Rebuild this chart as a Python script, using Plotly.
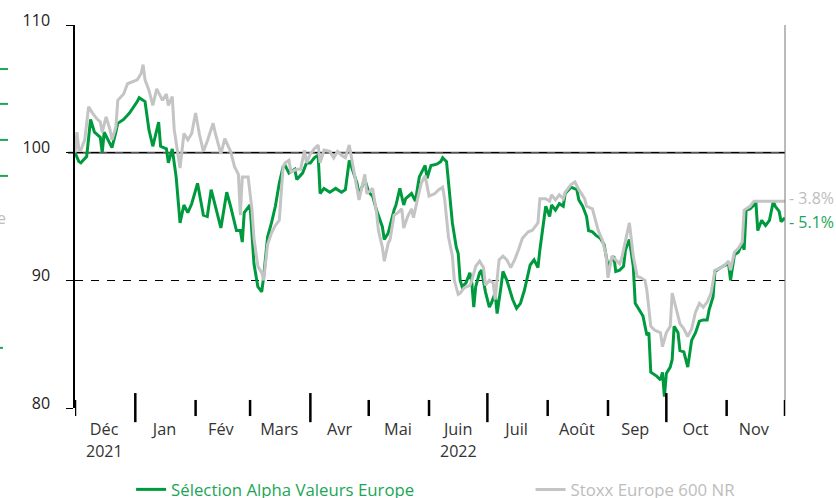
import plotly.graph_objects as go

# ---------------- data ----------------
fund_dates = [
    "2021-12-01","2021-12-03","2021-12-04","2021-12-07","2021-12-09","2021-12-11","2021-12-14","2021-12-15",
    "2021-12-16","2021-12-18","2021-12-20","2021-12-22","2021-12-23","2021-12-26","2021-12-29","2022-01-02",
    "2022-01-03","2022-01-06","2022-01-08","2022-01-10","2022-01-13","2022-01-14","2022-01-17","2022-01-18",
    "2022-01-20","2022-01-22","2022-01-24","2022-01-26","2022-01-28","2022-01-30","2022-02-02","2022-02-05",
    "2022-02-07","2022-02-09","2022-02-11","2022-02-14","2022-02-17","2022-02-19","2022-02-22","2022-02-24",
    "2022-02-25","2022-02-26","2022-03-01","2022-03-02","2022-03-03","2022-03-05","2022-03-07","2022-03-08",
    "2022-03-10","2022-03-12","2022-03-14","2022-03-16","2022-03-18","2022-03-19","2022-03-21","2022-03-24",
    "2022-03-25","2022-03-28","2022-03-30","2022-04-01","2022-04-03","2022-04-05","2022-04-06","2022-04-08",
    "2022-04-11","2022-04-14","2022-04-17","2022-04-19","2022-04-21","2022-04-23","2022-04-25","2022-04-26",
    "2022-04-29","2022-05-01","2022-05-03","2022-05-05","2022-05-08","2022-05-09","2022-05-11","2022-05-14",
    "2022-05-15","2022-05-17","2022-05-19","2022-05-20","2022-05-23","2022-05-25","2022-05-27","2022-05-30",
    "2022-05-31","2022-06-02","2022-06-05","2022-06-07","2022-06-08","2022-06-10","2022-06-12","2022-06-13",
    "2022-06-15","2022-06-16","2022-06-17","2022-06-18","2022-06-20","2022-06-22","2022-06-23","2022-06-24",
    "2022-06-25","2022-06-27","2022-06-28","2022-06-30","2022-07-02","2022-07-03","2022-07-05","2022-07-06",
    "2022-07-08","2022-07-09","2022-07-11","2022-07-14","2022-07-16","2022-07-18","2022-07-20","2022-07-22",
    "2022-07-23","2022-07-25","2022-07-27","2022-07-28","2022-07-30","2022-07-31","2022-08-02","2022-08-03",
    "2022-08-05","2022-08-07","2022-08-09","2022-08-10","2022-08-13","2022-08-16","2022-08-17","2022-08-19",
    "2022-08-21","2022-08-22","2022-08-24","2022-08-26","2022-08-28","2022-08-30","2022-09-01","2022-09-04",
    "2022-09-05","2022-09-07","2022-09-09","2022-09-10","2022-09-12","2022-09-14","2022-09-15","2022-09-17",
    "2022-09-19","2022-09-21","2022-09-22","2022-09-23","2022-09-26","2022-09-28","2022-09-29","2022-09-30",
    "2022-10-01","2022-10-03","2022-10-04","2022-10-05","2022-10-07","2022-10-08","2022-10-10","2022-10-12",
    "2022-10-14","2022-10-16","2022-10-18","2022-10-20","2022-10-22","2022-10-23","2022-10-25","2022-10-26",
    "2022-10-28","2022-10-30","2022-11-02","2022-11-03","2022-11-05","2022-11-07","2022-11-09","2022-11-10",
    "2022-11-11","2022-11-13","2022-11-15","2022-11-16","2022-11-17","2022-11-19","2022-11-21","2022-11-23",
    "2022-11-25","2022-11-26","2022-11-28","2022-11-29","2022-12-01",
]
fund_values = [
    100.0, 99.3, 99.2, 99.7, 102.6, 101.6, 101.2, 100.0,
    101.6, 101.0, 100.4, 101.6, 102.3, 102.6, 103.1, 104.0,
    104.3, 104.0, 101.8, 100.5, 102.4, 100.5, 100.3, 99.2,
    100.3, 98.1, 94.5, 95.9, 95.3, 96.0, 97.6, 95.1,
    95.0, 97.1, 95.8, 94.1, 96.9, 95.8, 93.9, 93.9,
    93.0, 95.3, 95.9, 93.6, 91.3, 89.5, 89.1, 90.3,
    93.4, 94.5, 95.8, 97.6, 98.9, 99.0, 98.4, 98.7,
    97.9, 98.4, 99.2, 99.2, 99.6, 99.8, 96.8, 97.2,
    96.9, 97.2, 96.9, 97.1, 99.4, 98.5, 97.6, 96.7,
    97.9, 96.9, 96.6, 95.5, 94.2, 93.2, 93.7, 95.5,
    95.9, 97.2, 95.9, 96.4, 96.8, 96.2, 98.1, 99.0,
    98.0, 99.0, 99.1, 99.3, 99.6, 99.3, 96.3, 94.5,
    92.6, 92.1, 90.0, 89.5, 89.8, 90.6, 89.8, 87.9,
    89.5, 90.6, 90.8, 89.1, 87.9, 88.2, 89.0, 87.4,
    89.5, 90.7, 90.0, 88.5, 87.8, 88.2, 89.2, 90.6,
    91.2, 91.6, 91.0, 92.4, 94.7, 95.8, 95.0, 95.9,
    95.5, 96.0, 95.8, 96.8, 97.3, 97.1, 96.3, 95.8,
    95.0, 93.9, 93.8, 93.5, 93.3, 92.8, 91.1, 91.9,
    90.7, 90.8, 91.1, 92.4, 93.2, 91.1, 88.2, 87.7,
    87.2, 85.7, 85.9, 82.8, 82.5, 82.2, 82.8, 80.9,
    82.7, 83.2, 83.8, 86.4, 85.9, 84.5, 84.4, 83.2,
    85.3, 85.9, 86.8, 86.9, 86.9, 87.7, 88.7, 90.7,
    90.9, 91.1, 91.3, 90.0, 92.0, 92.2, 92.9, 92.4,
    95.5, 95.6, 95.9, 96.2, 93.9, 94.7, 94.3, 94.7,
    96.2, 95.8, 95.4, 94.6, 94.9,
]

index_dates = [
    "2021-12-01","2021-12-02","2021-12-03","2021-12-04","2021-12-06","2021-12-08","2021-12-10","2021-12-12",
    "2021-12-14","2021-12-15","2021-12-17","2021-12-19","2021-12-20","2021-12-22","2021-12-23","2021-12-26",
    "2021-12-28","2021-12-31","2022-01-02","2022-01-04","2022-01-05","2022-01-06","2022-01-08","2022-01-10",
    "2022-01-12","2022-01-15","2022-01-17","2022-01-18","2022-01-20","2022-01-21","2022-01-24","2022-01-26",
    "2022-01-28","2022-01-30","2022-02-01","2022-02-03","2022-02-05","2022-02-07","2022-02-10","2022-02-11",
    "2022-02-14","2022-02-16","2022-02-19","2022-02-21","2022-02-23","2022-02-24","2022-02-25","2022-02-28",
    "2022-03-01","2022-03-02","2022-03-03","2022-03-05","2022-03-07","2022-03-08","2022-03-10","2022-03-12",
    "2022-03-14","2022-03-16","2022-03-18","2022-03-19","2022-03-21","2022-03-22","2022-03-25","2022-03-27",
    "2022-03-29","2022-03-30","2022-04-01","2022-04-03","2022-04-05","2022-04-06","2022-04-08","2022-04-11",
    "2022-04-13","2022-04-15","2022-04-17","2022-04-19","2022-04-21","2022-04-23","2022-04-24","2022-04-26",
    "2022-04-29","2022-04-30","2022-05-03","2022-05-05","2022-05-06","2022-05-08","2022-05-09","2022-05-11",
    "2022-05-12","2022-05-14","2022-05-16","2022-05-18","2022-05-19","2022-05-21","2022-05-23","2022-05-24",
    "2022-05-26","2022-05-28","2022-05-30","2022-06-01","2022-06-04","2022-06-06","2022-06-08","2022-06-09",
    "2022-06-11","2022-06-13","2022-06-14","2022-06-16","2022-06-17","2022-06-19","2022-06-22","2022-06-23",
    "2022-06-25","2022-06-27","2022-06-29","2022-06-30","2022-07-02","2022-07-04","2022-07-05","2022-07-07",
    "2022-07-09","2022-07-11","2022-07-13","2022-07-15","2022-07-17","2022-07-19","2022-07-22","2022-07-24",
    "2022-07-27","2022-07-28","2022-07-31","2022-08-02","2022-08-03","2022-08-05","2022-08-07","2022-08-09",
    "2022-08-10","2022-08-13","2022-08-15","2022-08-17","2022-08-20","2022-08-21","2022-08-24","2022-08-26",
    "2022-08-27","2022-08-29","2022-08-31","2022-09-01","2022-09-03","2022-09-05","2022-09-07","2022-09-08",
    "2022-09-10","2022-09-12","2022-09-14","2022-09-16","2022-09-18","2022-09-20","2022-09-21","2022-09-23",
    "2022-09-25","2022-09-28","2022-09-29","2022-10-01","2022-10-03","2022-10-04","2022-10-06","2022-10-08",
    "2022-10-10","2022-10-12","2022-10-14","2022-10-16","2022-10-18","2022-10-20","2022-10-22","2022-10-24",
    "2022-10-26","2022-10-28","2022-10-31","2022-11-02","2022-11-03","2022-11-05","2022-11-07","2022-11-09",
    "2022-11-10","2022-11-13","2022-11-15","2022-11-19","2022-11-23","2022-11-27","2022-12-01",
]
index_values = [
    100.0, 101.6, 100.2, 100.2, 101.0, 103.6, 103.1, 102.7,
    102.4, 101.6, 102.8, 101.8, 101.0, 102.0, 104.1, 104.6,
    105.4, 105.6, 105.7, 106.2, 106.9, 105.7, 104.9, 103.7,
    105.0, 104.1, 104.6, 103.7, 104.4, 101.8, 98.8, 101.5,
    101.0, 101.5, 103.1, 101.4, 100.1, 100.9, 102.3, 101.6,
    99.9, 101.1, 100.1, 98.9, 98.3, 95.1, 98.1, 98.1,
    96.6, 95.5, 93.3, 91.1, 90.6, 90.0, 92.8, 93.7,
    94.3, 94.7, 98.9, 99.2, 99.4, 98.5, 98.7, 98.7,
    100.2, 99.2, 99.9, 100.3, 100.6, 99.2, 100.2, 100.1,
    99.6, 100.1, 99.8, 99.6, 100.6, 98.9, 98.0, 96.3,
    98.3, 96.8, 97.2, 95.3, 93.9, 92.6, 91.5, 92.9,
    93.2, 95.1, 95.3, 95.6, 94.1, 95.0, 95.6, 94.9,
    96.3, 97.6, 98.2, 96.6, 96.8, 97.1, 97.3, 96.4,
    93.4, 91.9, 90.0, 88.9, 89.0, 89.4, 89.6, 90.0,
    91.1, 91.5, 91.0, 89.6, 90.0, 89.8, 88.5, 91.6,
    91.9, 91.6, 91.0, 91.6, 92.4, 93.3, 93.8, 93.9,
    94.5, 96.4, 96.4, 96.2, 96.7, 96.3, 96.7, 96.4,
    96.9, 97.5, 97.7, 97.1, 96.4, 95.8, 95.6, 94.5,
    93.9, 93.2, 92.0, 90.2, 91.9, 91.6, 91.3, 91.7,
    93.2, 94.5, 91.9, 90.3, 90.2, 90.0, 89.2, 86.4,
    86.1, 85.9, 84.8, 85.9, 86.4, 89.0, 87.8, 86.6,
    86.2, 85.6, 86.2, 87.5, 88.2, 87.9, 88.3, 89.0,
    90.8, 90.9, 91.2, 91.5, 90.8, 92.2, 92.5, 93.0,
    95.5, 95.8, 96.2, 96.2, 96.2, 96.2, 96.2,
]

month_starts = ["2021-12-01","2022-01-01","2022-02-01","2022-03-01","2022-04-01","2022-05-01","2022-06-01",
                "2022-07-01","2022-08-01","2022-09-01","2022-10-01","2022-11-01","2022-12-01"]
quarter_starts = ["2022-01-01","2022-04-01","2022-07-01","2022-10-01"]
month_mid = ["2021-12-16","2022-01-16","2022-02-14","2022-03-16","2022-04-16","2022-05-16","2022-06-16",
             "2022-07-16","2022-08-16","2022-09-15","2022-10-16","2022-11-15"]
month_labels = ["Déc","Jan","Fév","Mars","Avr","Mai","Juin","Juil","Août","Sep","Oct","Nov"]
year_labels = [("2021-12-16","2021"),("2022-06-16","2022")]
y_ticks = [80, 90, 100, 110]

fund_name = "Sélection Alpha Valeurs Europe"
index_name = "Stoxx Europe 600 NR"

GREEN = "#009A3E"
GREEN_TXT = "#1BA555"
GRAY = "#C4C4C4"
GRAY_TXT = "#BDBDBD"
FONT = "Open Sans"

fig = go.Figure()
fig.add_trace(go.Scatter(x=fund_dates, y=fund_values, mode="lines",
                         line=dict(color=GREEN, width=3), legend="legend",
                         name=f"<span style='color:{GREEN_TXT}'>{fund_name}</span>"))
fig.add_trace(go.Scatter(x=index_dates, y=index_values, mode="lines",
                         line=dict(color=GRAY, width=3), legend="legend2",
                         name=f"<span style='color:{GRAY_TXT}'>{index_name}</span>"))

shapes = []
# reference line at 100
shapes.append(dict(type="line", xref="paper", yref="y", x0=-0.01, x1=1, y0=100, y1=100,
                   line=dict(color="#555555", width=2), layer="below"))
# right border
shapes.append(dict(type="line", xref="paper", yref="paper", x0=1, x1=1, y0=-0.02, y1=1,
                   line=dict(color="#777777", width=1)))
# month ticks on x axis
for d in month_starts:
    long = d in quarter_starts
    shapes.append(dict(type="line", xref="x", yref="paper", x0=d, x1=d,
                       y0=(-0.037 if long else -0.021), y1=(0.039 if long else 0.021),
                       line=dict(color="black", width=2.5)))
# small fragments at the far left edge
for yp in [0.885, 0.794, 0.700, 0.606]:
    shapes.append(dict(type="line", xref="paper", yref="paper", x0=-0.1056, x1=-0.0944, y0=yp, y1=yp,
                       line=dict(color=GREEN_TXT, width=2)))
shapes.append(dict(type="line", xref="paper", yref="paper", x0=-0.1056, x1=-0.1015, y0=0.157, y1=0.157,
                   line=dict(color=GREEN_TXT, width=2)))

annotations = []
for xd, t in year_labels:
    annotations.append(dict(x=xd, xref="x", y=-0.112, yref="paper", text=t, showarrow=False,
                            font=dict(family=FONT, size=16, color="#333333"), yanchor="middle"))
gl = index_values[-1]
fl = fund_values[-1]
annotations.append(dict(x=1, xref="paper", y=gl + 0.25, yref="y", xanchor="left", xshift=2,
                        text=f"- {abs(gl - 100):.1f}%", showarrow=False,
                        font=dict(family=FONT, size=16, color=GRAY_TXT)))
annotations.append(dict(x=1, xref="paper", y=fl - 0.35, yref="y", xanchor="left", xshift=2,
                        text=f"- {abs(fl - 100):.1f}%", showarrow=False,
                        font=dict(family=FONT, size=16, color=GREEN_TXT)))
annotations.append(dict(x=-0.0944, xref="paper", y=0.496, yref="paper", xanchor="right",
                        text="e", showarrow=False, font=dict(family=FONT, size=16, color=GRAY_TXT)))

leg_common = dict(orientation="h", xanchor="left", y=-0.167, yanchor="top",
                  font=dict(family=FONT, size=16.8), bgcolor="rgba(0,0,0,0)")

fig.update_layout(
    width=836, height=498,
    margin=dict(l=75, r=51, t=25, b=90, autoexpand=False),
    plot_bgcolor="white", paper_bgcolor="white",
    font=dict(family=FONT, size=16, color="#333333"),
    showlegend=True,
    legend=dict(x=0.079, **leg_common),
    legend2=dict(x=0.6416, **leg_common),
    shapes=shapes,
    annotations=annotations,
    xaxis=dict(type="date", range=["2021-12-01", "2022-12-01"], showgrid=False, showline=False,
               zeroline=False, tickmode="array", tickvals=month_mid, ticktext=month_labels,
               ticks="", automargin=False, ticklabelstandoff=10,
               tickfont=dict(family=FONT, size=16.3, color="#333333")),
    yaxis=dict(range=[80, 110], tickmode="array", tickvals=y_ticks, showgrid=True,
               gridcolor="black", gridwidth=1, griddash="8px,8px", zeroline=False,
               showline=True, linecolor="black", linewidth=1.5,
               ticks="outside", ticklen=7, tickcolor="black", tickwidth=1,
               ticklabelstandoff=13, ticklabelshift=-5, automargin=False,
               tickfont=dict(family=FONT, size=16, color="#222222")),
)

fig.write_html("out.html", config={"displayModeBar": False},
               post_script="document.body.style.margin='0px';document.body.style.overflow='hidden';")
